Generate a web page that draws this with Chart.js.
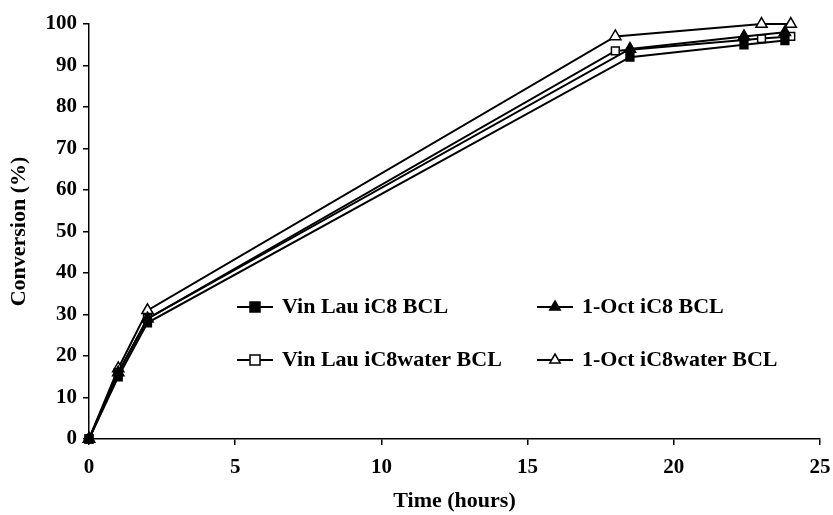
<!DOCTYPE html>
<html lang="en">
<head>
    <meta charset="UTF-8">
    <title>Conversion vs Time</title>
    <style>
        html, body { margin: 0; padding: 0; background: #fff; }
        #wrap { width: 833px; height: 515px; }
    </style>
</head>
<body>
    <div id="wrap"><canvas id="conversionChart" width="833" height="515"></canvas></div>

    <script src="https://cdn.jsdelivr.net/npm/chart.js"></script>
    <script>
        // tiempos de muestreo (horas)
        const timesBcl = [0, 1, 2, 18.5, 22.4, 23.8];
        const timesWater = [0, 1, 2, 18, 23, 24];

        // conversión (%)
        const vinLauIC8 = [0, 15, 28, 92, 95, 96];
        const octIC8 = [0, 16, 29, 94, 97, 98];
        const vinLauIC8water = [0, 16, 29, 93.5, 96.5, 97];
        const octIC8water = [0, 17, 31, 97, 100, 100];

        const seriesLabels = ['Vin Lau iC8 BCL', '1-Oct iC8 BCL', 'Vin Lau iC8water BCL', '1-Oct iC8water BCL'];
        const xTicks = [0, 5, 10, 15, 20, 25];
        const yTicks = [0, 10, 20, 30, 40, 50, 60, 70, 80, 90, 100];

        const serif = '"Liberation Serif", "Times New Roman", serif';

        function toPoints(xs, ys) {
            return xs.map((x, i) => ({ x: x, y: ys[i] }));
        }

        function makeSet(label, xs, ys, shape, filled) {
            return {
                label: label,
                data: toPoints(xs, ys),
                borderColor: '#000',
                borderWidth: 2,
                pointStyle: shape,
                pointRadius: shape === 'triangle' ? 6.5 : 5.5,
                pointBorderWidth: 1.5,
                pointBorderColor: '#000',
                pointBackgroundColor: filled ? '#000' : '#fff',
                showLine: true,
                fill: false,
                tension: 0,
                clip: false
            };
        }

        // leyenda dibujada dentro del área del gráfico
        const innerLegend = {
            id: 'innerLegend',
            afterDatasetsDraw(chart) {
                const ctx = chart.ctx;
                const slots = [[237, 307], [537, 307], [237, 360], [537, 360]];
                ctx.save();
                chart.data.datasets.forEach((ds, i) => {
                    const [lx, ly] = slots[i];
                    const cx = lx + 18;
                    const r = ds.pointStyle === 'rect' ? 5 : 6;
                    ctx.strokeStyle = '#000';
                    ctx.lineWidth = 2;
                    ctx.beginPath();
                    ctx.moveTo(lx, ly);
                    ctx.lineTo(lx + 36, ly);
                    ctx.stroke();
                    ctx.fillStyle = ds.pointBackgroundColor;
                    ctx.lineWidth = 1.5;
                    ctx.beginPath();
                    if (ds.pointStyle === 'rect') {
                        ctx.rect(cx - r, ly - r, 2 * r, 2 * r);
                    } else {
                        ctx.moveTo(cx, ly - r);
                        ctx.lineTo(cx + r * 0.87, ly + r * 0.5);
                        ctx.lineTo(cx - r * 0.87, ly + r * 0.5);
                        ctx.closePath();
                    }
                    ctx.fill();
                    ctx.stroke();
                    ctx.fillStyle = '#000';
                    ctx.font = 'bold 22px ' + serif;
                    ctx.textBaseline = 'middle';
                    ctx.fillText(ds.label, lx + 45, ly);
                });
                ctx.restore();
            }
        };

        const ctx = document.getElementById('conversionChart').getContext('2d');
        new Chart(ctx, {
            type: 'scatter',
            data: {
                datasets: [
                    makeSet(seriesLabels[0], timesBcl, vinLauIC8, 'rect', true),
                    makeSet(seriesLabels[1], timesBcl, octIC8, 'triangle', true),
                    makeSet(seriesLabels[2], timesWater, vinLauIC8water, 'rect', false),
                    makeSet(seriesLabels[3], timesWater, octIC8water, 'triangle', false)
                ]
            },
            options: {
                responsive: false,
                animation: false,
                layout: { padding: { top: 24, right: 13, left: 0, bottom: 0 } },
                plugins: {
                    legend: { display: false },
                    tooltip: { enabled: false }
                },
                scales: {
                    x: {
                        type: 'linear',
                        min: 0,
                        max: 25,
                        afterBuildTicks: scale => { scale.ticks = xTicks.map(v => ({ value: v })); },
                        afterFit: scale => {
                            scale.height = 76;
                            scale.paddingLeft = 0;
                            scale.paddingRight = 0;
                        },
                        border: { color: '#000', width: 1.5 },
                        grid: { drawOnChartArea: false, color: '#000', tickLength: 6, lineWidth: 1.5 },
                        ticks: { color: '#000', font: { family: serif, size: 21, weight: 'bold' }, padding: 10, maxRotation: 0 },
                        title: {
                            display: true,
                            text: 'Time (hours)',
                            color: '#000',
                            font: { family: serif, size: 22, weight: 'bold' },
                            padding: { top: 2, bottom: 0 }
                        }
                    },
                    y: {
                        min: 0,
                        max: 100,
                        afterBuildTicks: scale => { scale.ticks = yTicks.map(v => ({ value: v })); },
                        afterFit: scale => {
                            scale.width = 89;
                            scale.paddingTop = 0;
                            scale.paddingBottom = 0;
                        },
                        border: { color: '#000', width: 1.5 },
                        grid: { drawOnChartArea: false, color: '#000', tickLength: 6, lineWidth: 1.5 },
                        ticks: { color: '#000', font: { family: serif, size: 21, weight: 'bold' }, padding: 6 },
                        title: {
                            display: true,
                            text: 'Conversion (%)',
                            color: '#000',
                            font: { family: serif, size: 22, weight: 'bold' },
                            padding: { top: 6, bottom: 0 }
                        }
                    }
                }
            },
            plugins: [innerLegend]
        });
    </script>
</body>
</html>
